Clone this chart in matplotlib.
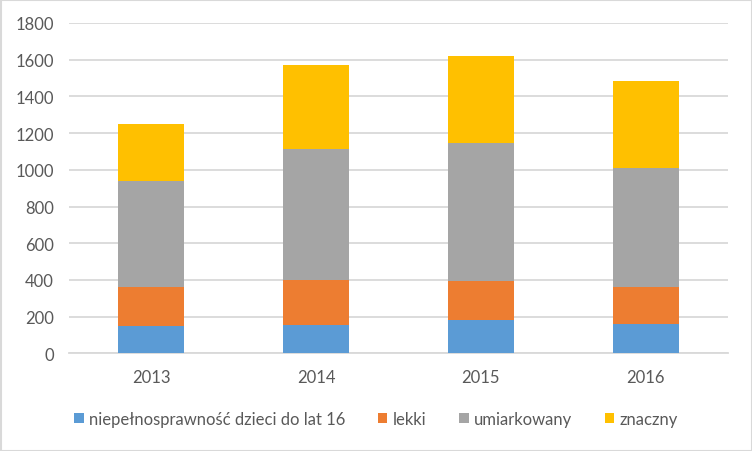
import matplotlib
matplotlib.use("Agg")
import matplotlib.pyplot as plt
import numpy as np
from matplotlib.patches import Rectangle

years = ["2013", "2014", "2015", "2016"]
series_names = ["niepełnosprawność dzieci do lat 16", "lekki", "umiarkowany", "znaczny"]
children = [149, 156, 183, 160]
lekki = [214, 242, 209, 200]
umiarkowany = [578, 717, 754, 652]
znaczny = [309, 458, 476, 472]
colors = ["#5B9BD5", "#ED7D31", "#A5A5A5", "#FFC000"]
yticks = [0, 200, 400, 600, 800, 1000, 1200, 1400, 1600, 1800]

plt.rcParams['font.family'] = ['Lato', 'DejaVu Sans']

fig = plt.figure(figsize=(7.52, 4.52), dpi=100)
W, H = 752, 452
ax = fig.add_axes([69 / W, 1 - 354.3 / H, 659 / W, (354.3 - 24) / H])

x = np.arange(len(years))
bottom = np.zeros(len(years))
for vals, c, name in zip([children, lekki, umiarkowany, znaczny], colors, series_names):
    ax.bar(x, vals, 0.4, bottom=bottom, color=c, label=name, zorder=3)
    bottom += np.array(vals)

ax.set_xlim(-0.5, len(years) - 0.5)
ax.set_ylim(0, 1800)
ax.set_yticks(yticks)
ax.set_xticks(x)
ax.set_xticklabels(years)
ax.yaxis.grid(True, color="#D9D9D9", linewidth=1.3, zorder=0)
for s in ["top", "right", "left"]:
    ax.spines[s].set_visible(False)
ax.spines["bottom"].set_color("#D9D9D9")
ax.spines["bottom"].set_linewidth(1.3)
ax.tick_params(axis="both", length=0, colors="#595959", labelsize=12)
ax.tick_params(axis="y", pad=11)
ax.tick_params(axis="x", pad=11)

leg = fig.legend(loc="center", bbox_to_anchor=(0.5, 1 - 420 / H), ncol=4, frameon=False,
                 fontsize=12, handlelength=0.55, handleheight=0.55, handletextpad=0.3,
                 columnspacing=2.0, labelcolor="#595959")

fig.patches.append(Rectangle((0.5 / W, 0.5 / H), 1 - 1 / W, 1 - 1 / H, transform=fig.transFigure,
                             fill=False, edgecolor="#D9D9D9", linewidth=1.5))
fig.savefig("out.png", dpi=100)
